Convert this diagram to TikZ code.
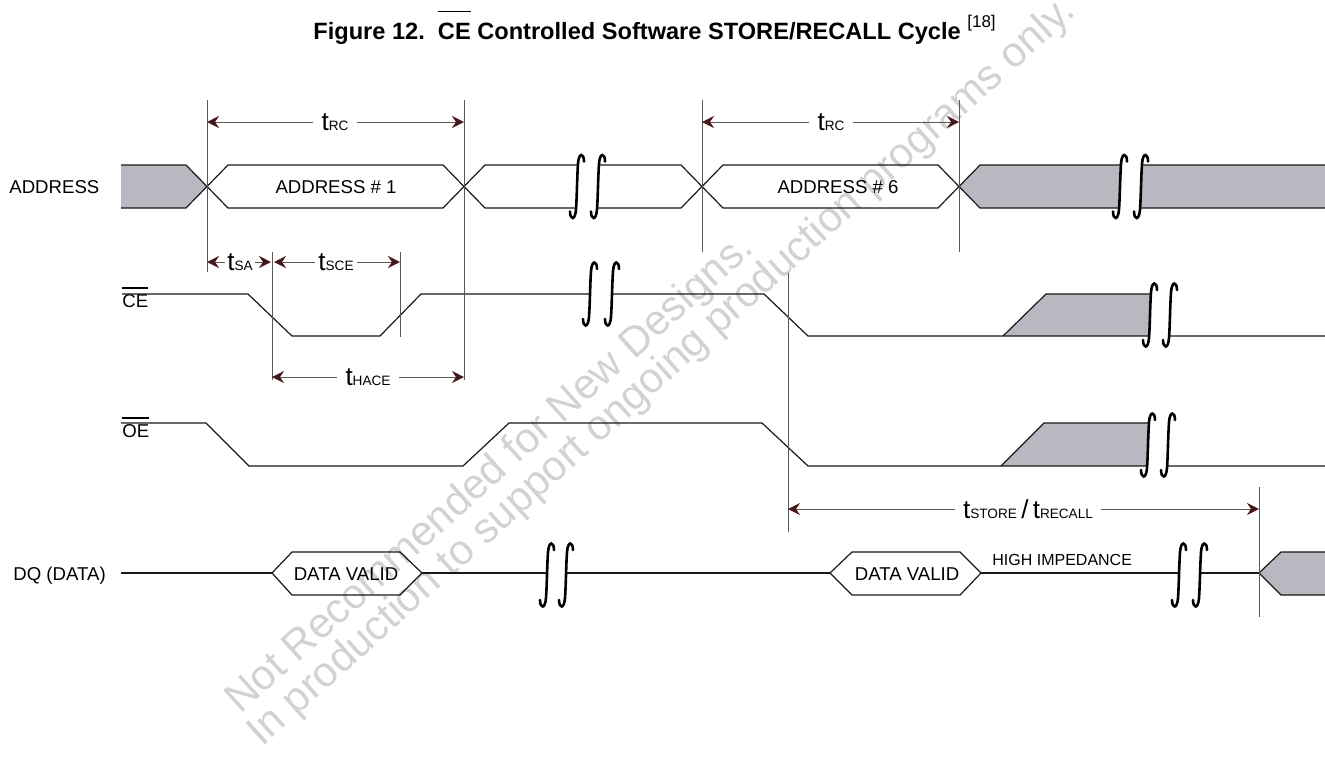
\documentclass[tikz,border=0pt]{standalone}
\usepackage{fontspec}
\setmainfont{Liberation Sans}
\usetikzlibrary{arrows.meta}
\definecolor{busgray}{RGB}{184,184,192}
\definecolor{tipred}{RGB}{70,25,25}
\newcommand{\tm}[1]{{\fontsize{13}{13}\selectfont t}{\fontsize{6.8}{7}\selectfont #1}}
\newcommand{\olt}[2]{\setbox0\hbox{#2}\rlap{\raisebox{#1}{\rule{\wd0}{0.8pt}}}\box0{}}
% one break mark: two integral-like strokes at x=#1 and x=#2, centred on y=#3
\newcommand{\brkcurve}[2]{%
  \draw[brkline] ({#1-7},{#2+25}) .. controls ({#1-7},{#2+33}) and ({#1-2},{#2+35}) .. ({#1-1},{#2+23})
    .. controls ({#1},{#2+8}) and ({#1},{#2-8}) .. ({#1+1},{#2-23})
    .. controls ({#1+2},{#2-35}) and ({#1+7},{#2-33}) .. ({#1+7},{#2-25});}
\newcommand{\brk}[3]{%
  \fill[white] ({#1},{#3-30}) rectangle ({#2},{#3+30});
  \brkcurve{#1}{#3}
  \brkcurve{#2}{#3}
}
\begin{document}
\begin{tikzpicture}[x=0.5pt,y=-0.5pt,
  sig/.style={line width=0.6pt, draw=black!90},
  mline/.style={line width=0.45pt, draw=gray!70!black},
  brkline/.style={line width=1.3pt, line cap=round},
  tarr/.style={-{Stealth[length=6pt,width=6pt,inset=2pt,color=tipred]}, line width=0.5pt, draw=gray!70!black},
  tlab/.style={fill=white, inner xsep=4pt, inner ysep=1pt},
  lbl/.style={font=\fontsize{9.3}{11}\selectfont, inner sep=0pt},
  wmark/.style={font=\fontsize{21}{21}\selectfont, text=gray!35, inner sep=0pt, anchor=base west, rotate=42}]
\useasboundingbox (0,0) rectangle (1325,767);
% watermark
\node[wmark] (wm1) at (240,715) {Not Recommended for New Designs.};
\node[wmark] (wm2) at (262,748) {In production to support ongoing production programs only.};
% title
\node[anchor=base west, inner sep=0pt, font=\bfseries\fontsize{11.8}{13}\selectfont] (title) at (313,39)
  {Figure 12.\ \ \olt{13.3pt}{CE} Controlled Software STORE/RECALL Cycle {\mdseries\fontsize{8.5}{9}\selectfont\raisebox{6pt}{[18]}}};
% signal names
\node[lbl, anchor=base west] (lad) at (9,193.5) {ADDRESS};
\node[lbl, anchor=base west] (lce) at (122,307) {\olt{9pt}{CE}};
\node[lbl, anchor=base west] (loe) at (122,437) {\olt{9pt}{OE}};
\node[lbl, anchor=base west] (ldq) at (13,580) {DQ (DATA)};
% ADDRESS
\fill[busgray] (121,165) -- (186,165) -- (207,186.5) -- (186,208) -- (121,208) -- cycle;
\draw[sig] (121,165) -- (186,165) -- (207,186.5) -- (186,208) -- (121,208);
\draw[sig] (207,186.5) -- (228,165) -- (443,165) -- (464,186.5) -- (443,208) -- (228,208) -- cycle;
\draw[sig] (464,186.5) -- (485,165) -- (681,165) -- (702,186.5) -- (681,208) -- (485,208) -- cycle;
\draw[sig] (702,186.5) -- (723,165) -- (938,165) -- (959,186.5) -- (938,208) -- (723,208) -- cycle;
\fill[busgray] (959,186.5) -- (980,165) -- (1325,165) -- (1325,208) -- (980,208) -- cycle;
\draw[sig] (1325,165) -- (980,165) -- (959,186.5) -- (980,208) -- (1325,208);
\node[lbl, anchor=base] (adr1) at (336,193.5) {ADDRESS \# 1};
\node[lbl, anchor=base] (adr6) at (838,193.5) {ADDRESS \# 6};
\brk{577}{598}{186.5}
\brk{1120}{1141}{186.5}
% CE
\fill[busgray] (1003,336) -- (1046,294) -- (1160,294) -- (1160,336) -- cycle;
\draw[sig] (122,294) -- (248,294) -- (292,336) -- (380,336) -- (421,294) -- (764,294) -- (808,336) -- (1325,336);
\draw[sig] (1003,336) -- (1046,294) -- (1160,294);
\brk{590}{612}{294}
\brk{1150}{1170}{315}
% OE
\fill[busgray] (1001,466) -- (1044,423) -- (1158,423) -- (1158,466) -- cycle;
\draw[sig] (121,423) -- (206,423) -- (249,466) -- (463,466) -- (509,423) -- (762,423) -- (808,466) -- (1325,466);
\draw[sig] (1001,466) -- (1044,423) -- (1158,423);
\brk{1148}{1168}{445}
% DQ
\draw[sig] (121,573) -- (272,573);
\draw[sig] (272,573) -- (292,552) -- (400,552) -- (422,573) -- (400,595) -- (292,595) -- cycle;
\draw[sig] (422,573) -- (830,573);
\draw[sig] (830,573) -- (852,552) -- (960,552) -- (981,573) -- (960,595) -- (852,595) -- cycle;
\draw[sig] (981,573) -- (1259,573);
\fill[busgray] (1259,573) -- (1281,552) -- (1325,552) -- (1325,595) -- (1281,595) -- cycle;
\draw[sig] (1325,552) -- (1281,552) -- (1259,573) -- (1281,595) -- (1325,595);
\node[lbl, anchor=base] (dv1) at (346,580) {DATA VALID};
\node[lbl, anchor=base] (dv2) at (907,580) {DATA VALID};
\node[anchor=base west, inner sep=0pt, font=\fontsize{8}{9}\selectfont] (hiz) at (992,565) {HIGH IMPEDANCE};
\brk{547}{566}{575}
\brk{1179}{1200}{575}
% timing marks
\draw[mline] (207,100) -- (207,272);
\draw[mline] (464,100) -- (464,380);
\draw[mline] (702,100) -- (702,252);
\draw[mline] (959,100) -- (959,252);
\draw[mline] (272,252) -- (272,380);
\draw[mline] (400,252) -- (400,337);
\draw[mline] (788,273) -- (788,532);
\draw[mline] (1259,487) -- (1259,617);
% timing arrows
\coordinate (a1) at (207,122); \coordinate (b1) at (464,122);
\coordinate (a2) at (702,122); \coordinate (b2) at (959,122);
\coordinate (a3) at (207,262); \coordinate (b3) at (271,262);
\coordinate (a4) at (274,262); \coordinate (b4) at (400,262);
\coordinate (a5) at (272,377); \coordinate (b5) at (464,377);
\coordinate (a6) at (788,509); \coordinate (b6) at (1259,509);
\node[tlab] (trc1) at (335,122) {\tm{RC}};
\draw[tarr] (trc1.west) -- (a1); \draw[tarr] (trc1.east) -- (b1);
\node[tlab] (trc2) at (831,122) {\tm{RC}};
\draw[tarr] (trc2.west) -- (a2); \draw[tarr] (trc2.east) -- (b2);
\node[tlab, inner xsep=1pt] (tsa) at (240,262) {\tm{SA}};
\draw[tarr] (tsa.west) -- (a3); \draw[tarr] (tsa.east) -- (b3);
\node[tlab, inner xsep=1.5pt] (tsce) at (336,262) {\tm{SCE}};
\draw[tarr] (tsce.west) -- (a4); \draw[tarr] (tsce.east) -- (b4);
\node[tlab] (thace) at (368,377) {\tm{HACE}};
\draw[tarr] (thace.west) -- (a5); \draw[tarr] (thace.east) -- (b5);
\node[tlab] (tsto) at (1028,509) {\tm{STORE}{\fontsize{13}{13}\selectfont\,/\,}\tm{RECALL}};
\draw[tarr] (tsto.west) -- (a6); \draw[tarr] (tsto.east) -- (b6);
\end{tikzpicture}
\end{document}
